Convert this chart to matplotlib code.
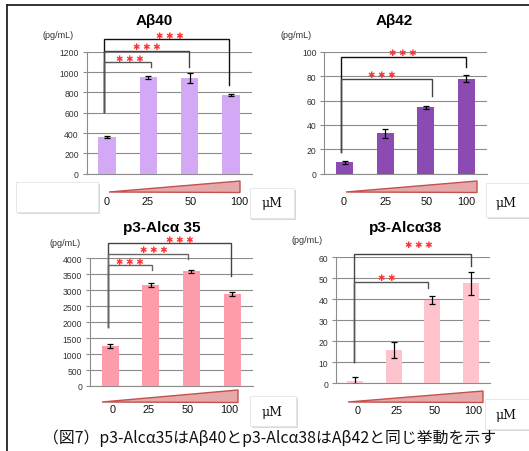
import matplotlib
matplotlib.use("Agg")
import matplotlib.pyplot as plt
from matplotlib.patches import Polygon, Rectangle

W, H = 529, 452

# ---- data ----
doses = ["0", "25", "50", "100"]

ab40 = [360, 948, 938, 778]
ab40_err = [10, 12, 50, 10]

ab42 = [9.3, 33, 54.4, 78]
ab42_err = [1.5, 4, 1.5, 2.7]

alc35 = [1245, 3175, 3592, 2885]
alc35_err = [70, 65, 50, 75]

alc38 = [1.3, 16, 39.8, 47.6]
alc38_err = [1.8, 3.9, 2, 5.6]

# significance brackets: (left x, right x, bar height, right drop end, stars x, stars y, stars)
ab40_sig = [(-0.07, 2.94, 1325, 872, 1.52, 1364, 3),
            (-0.07, 1.99, 1210, 1050, 0.96, 1249, 3),
            (-0.07, 1.05, 1096, 1050, 0.55, 1135, 3)]
ab40_sig_base = 604
ab42_sig = [(-0.08, 2.99, 95.9, 87.5, 1.44, 99.5, 3),
            (-0.08, 2.15, 77.6, 63.9, 0.92, 81.0, 3)]
ab42_sig_base = 17.8
alc35_sig = [(-0.06, 2.97, 4469, 3455, 1.72, 4604, 3),
             (-0.06, 1.92, 4134, 3978, 1.08, 4269, 3),
             (-0.06, 1.02, 3790, 3633, 0.49, 3906, 3)]
alc35_sig_base = 1848
alc38_sig = [(-0.03, 3.0, 61.6, 56.0, 1.65, 66.3, 3),
             (-0.03, 1.89, 48.1, 45.4, 0.82, 50.5, 2)]
alc38_sig_base = 10.1

fig = plt.figure(figsize=(W / 100, H / 100), dpi=100)
fig.patch.set_facecolor("white")

SANS = ["Liberation Sans", "DejaVu Sans"]


def fx(x):
    return x / W


def fy(y):
    return 1 - y / H


def ftext(x, y, s, **kw):
    fig.text(fx(x), fy(y), s, ha=kw.pop("ha", "center"), va=kw.pop("va", "center"), **kw)


def panel(box, ylim, yticks, vals, errs, color, sig, sig_base, title, title_xy, unit_xy,
          ramp, labels_x, labels_y, line_colors):
    l, r, t, b = box
    ax = fig.add_axes([fx(l), fy(b), fx(r - l), (b - t) / H])
    x = list(range(len(vals)))
    ax.bar(x, vals, width=0.42, color=color, zorder=3)
    ax.errorbar(x, vals, yerr=errs, fmt="none", ecolor="black", elinewidth=0.9,
                capsize=2.3, capthick=0.9, zorder=4)
    ax.set_xlim(-0.5, 3.5)
    ax.set_ylim(*ylim)
    ax.set_yticks(yticks)
    ax.set_xticks([])
    ax.yaxis.grid(True, color="#8c8c8c", lw=0.8, zorder=0)
    ax.set_axisbelow(True)
    for s in ("top", "right"):
        ax.spines[s].set_visible(False)
    for s in ("left", "bottom"):
        ax.spines[s].set_color("#8c8c8c")
        ax.spines[s].set_linewidth(0.8)
    ax.tick_params(axis="y", length=3, color="#8c8c8c", labelsize=6.2,
                   labelcolor="#333333", pad=2.5)
    for lab in ax.get_yticklabels():
        lab.set_family(SANS)
    # brackets and stars
    for (xl, xr, hy, drop, sx, sy, n), lc in zip(sig, line_colors):
        ax.plot([xl, xl, xr, xr], [sig_base, hy, hy, drop], color=lc, lw=1.0,
                clip_on=False, zorder=5, solid_joinstyle="miter")
        ax.text(sx, sy, " ".join(["✱"] * n), color="#ff3030", fontsize=6.3,
                ha="center", va="center", clip_on=False, zorder=6,
                family=["DejaVu Sans"])
    ftext(*title_xy, title, fontsize=11, fontweight="bold", family=SANS)
    ftext(*unit_xy, "(pg/mL)", fontsize=6.5, color="#333333", family=SANS)
    # dose ramp
    (x0, y0), (x1, yt, yb) = ramp
    tri = Polygon([(fx(x0), fy(y0)), (fx(x1), fy(yt)), (fx(x1), fy(yb))], closed=True,
                  transform=fig.transFigure, facecolor="#e6a9a9", edgecolor="#c4514e",
                  lw=1.0, zorder=2)
    fig.add_artist(tri)
    for d, lx in zip(doses, labels_x):
        ftext(lx, labels_y, d, fontsize=7.8, color="#111111", family=SANS)
    return ax


def box(x0, y0, x1, y1, label=None, tx=None, ty=None):
    shadow = Rectangle((fx(x0 + 1.5), fy(y1 + 1.5)), fx(x1 - x0), (y1 - y0) / H,
                       transform=fig.transFigure, facecolor="#d9d9d9", edgecolor="none",
                       zorder=7)
    rect = Rectangle((fx(x0), fy(y1)), fx(x1 - x0), (y1 - y0) / H,
                     transform=fig.transFigure, facecolor="white", edgecolor="#e4e4e4",
                     lw=0.6, zorder=8)
    fig.add_artist(shadow)
    fig.add_artist(rect)
    if label:
        fig.text(fx(tx), fy(ty), label, fontsize=9, ha="center", va="center",
                 zorder=9, color="#111111", family=["DejaVu Serif"])


dark = ["#111111", "#444444", "#555555"]

panel((86.5, 251.8, 52.7, 174.7), (0, 1200), range(0, 1201, 200), ab40, ab40_err,
      "#d3a9f6", ab40_sig, ab40_sig_base, "Aβ40", (154, 21), (58, 35),
      ((109, 193), (240, 182, 193.5)), [107, 148, 191, 239], 202, dark)

panel((324.2, 486.7, 52.7, 174.7), (0, 100), range(0, 101, 20), ab42, ab42_err,
      "#8c4bb2", ab42_sig, ab42_sig_base, "Aβ42", (394, 21), (296, 35),
      ((346, 193), (477, 182, 193.5)), [344, 386, 427, 466], 202, dark[:2])

panel((89.7, 252.5, 259.3, 387.0), (0, 4000), range(0, 4001, 500), alc35, alc35_err,
      "#ff9cab", alc35_sig, alc35_sig_base, "p3-Alcα 35", (162, 228), (65, 244),
      ((102, 403), (238, 391, 403.5)), [113, 149, 188, 229], 410, ["#444444", "#666666", "#666666"])

panel((336.0, 490.0, 258.3, 384.3), (0, 60), range(0, 61, 10), alc38, alc38_err,
      "#ffc3cd", alc38_sig, alc38_sig_base, "p3-Alcα38", (406, 228), (307, 241),
      ((348, 403), (483, 392, 403.5)), [358, 397, 435, 473], 411, ["#444444", "#555555"])

# overlay boxes
box(16, 183, 98, 213)
box(249.5, 189, 294, 219, "μM", 272, 204)
box(486, 184, 535, 218, "μM", 506, 204)
box(250, 397, 296, 427, "μM", 272, 413)
box(485, 400, 535, 430, "μM", 506, 416)

# outer frame
fig.add_artist(plt.Line2D([fx(7), fx(7)], [fy(6), fy(H + 2)], transform=fig.transFigure,
                          color="#222222", lw=1.3))
fig.add_artist(plt.Line2D([fx(7), fx(W + 2)], [fy(6), fy(6)], transform=fig.transFigure,
                          color="#222222", lw=1.3))

fig.text(fx(270), fy(438), "（図7）p3-Alcα35はAβ40とp3-Alcα38はAβ42と同じ挙動を示す",
         fontsize=11.4, ha="center", va="center", color="#111111", zorder=12,
         family=["Noto Sans CJK JP", "DejaVu Sans"])

fig.savefig("out.png", dpi=100, facecolor="white")
